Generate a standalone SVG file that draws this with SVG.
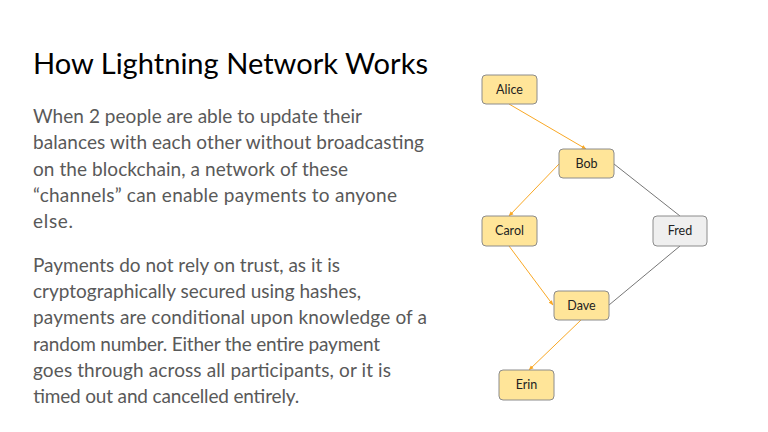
<svg xmlns="http://www.w3.org/2000/svg" width="768" height="432" viewBox="0 0 768 432">
<defs>
<style>
.title{font-family:Lato,"Open Sans",sans-serif;font-size:28px;fill:#000}
.body{font-family:Lato,"Open Sans",sans-serif;font-size:19px;fill:#595959}
.node rect{fill:#ffe599;stroke:#8c8c8c;stroke-width:1}
.node.grey rect{fill:#efefef}
.node text{font-family:Lato,"Open Sans",sans-serif;font-size:12.5px;fill:#222;text-anchor:middle}
.pay{stroke:#f9a825;stroke-width:1;fill:none}
.chan{stroke:#666;stroke-width:0.9;fill:none}
</style>
<marker id="ah" viewBox="0 0 10 10" refX="9" refY="5" markerWidth="5" markerHeight="5" orient="auto">
<path d="M0,1 L10,5 L0,9 Z" fill="#f9a825"/>
</marker>
</defs>
<rect width="768" height="432" fill="#fff"/>
<text class="title" x="33" y="74" textLength="395" lengthAdjust="spacingAndGlyphs">How Lightning Network Works</text>
<g class="body">
<text x="33" y="123" textLength="329">When 2 people are able to update their</text>
<text x="33" y="149" textLength="391">balances with each other without broadcasting</text>
<text x="33" y="176" textLength="315">on the blockchain, a network of these</text>
<text x="33" y="202" textLength="364">“channels” can enable payments to anyone</text>
<text x="33" y="228" textLength="40">else.</text>
<text x="33" y="272" textLength="307">Payments do not rely on trust, as it is</text>
<text x="33" y="298" textLength="328">cryptographically secured using hashes,</text>
<text x="33" y="324" textLength="394">payments are conditional upon knowledge of a</text>
<text x="33" y="351" textLength="347">random number. Either the entire payment</text>
<text x="33" y="377" textLength="358">goes through across all participants, or it is</text>
<text x="33" y="403" textLength="266">timed out and cancelled entirely.</text>
</g>
<g id="connectors">
<line class="pay" x1="509" y1="104" x2="586" y2="149" marker-end="url(#ah)"/>
<line class="pay" x1="559" y1="164" x2="509" y2="216" marker-end="url(#ah)"/>
<line class="chan" x1="614" y1="164" x2="680" y2="216"/>
<line class="pay" x1="509" y1="246" x2="553" y2="305" marker-end="url(#ah)"/>
<line class="chan" x1="680" y1="246" x2="609" y2="305"/>
<line class="pay" x1="581" y1="320" x2="529" y2="370" marker-end="url(#ah)"/>
</g>
<g id="alice" class="node"><rect x="482" y="75" width="55" height="29" rx="4"/><text x="509.5" y="94">Alice</text></g>
<g id="bob" class="node"><rect x="559" y="149" width="55" height="29" rx="4"/><text x="586.5" y="168">Bob</text></g>
<g id="carol" class="node"><rect x="482" y="216" width="55" height="30" rx="4"/><text x="509.5" y="235">Carol</text></g>
<g id="fred" class="node grey"><rect x="653" y="216" width="54" height="30" rx="4"/><text x="680" y="235">Fred</text></g>
<g id="dave" class="node"><rect x="554" y="291" width="55" height="29" rx="4"/><text x="581.5" y="310">Dave</text></g>
<g id="erin" class="node"><rect x="499" y="370" width="55" height="30" rx="4"/><text x="526.5" y="389">Erin</text></g>
</svg>
